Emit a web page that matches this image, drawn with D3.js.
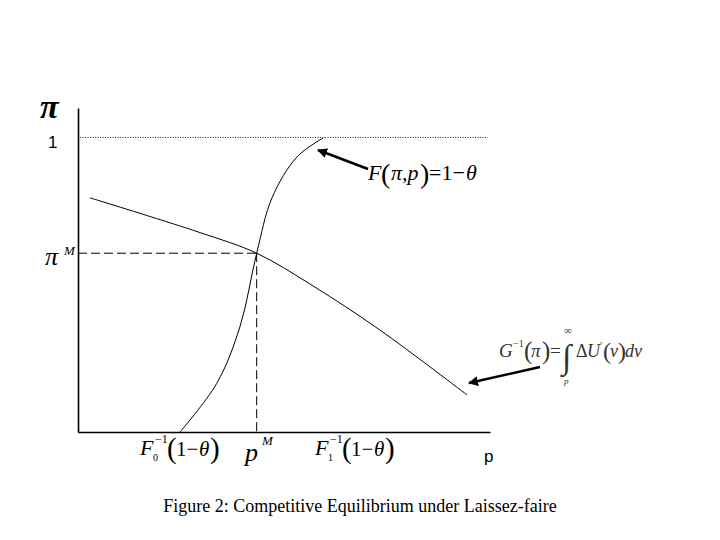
<!DOCTYPE html>
<html>
<head>
<meta charset="utf-8">
<script src="https://cdn.jsdelivr.net/npm/d3@7"></script>
<style>
body{margin:0;background:#fff;}
svg{display:block;}
.serif{font-family:"Liberation Serif","Times New Roman",serif;}
.sans{font-family:"Liberation Sans",Arial,sans-serif;}
</style>
</head>
<body>
<svg id="c" width="720" height="540"></svg>
<script>
// ---- data (p on 0..100, pi on 0..1) ----
const supplyP  = [24.76, 33.67, 39.32, 43.37, 47.09, 53.16, 59.47];
const supplyPi = [0.0, 0.165, 0.358, 0.607, 0.795, 0.934, 0.998];
const demandP  = [2.91, 29.61, 43.37, 57.04, 73.30, 94.42];
const demandPi = [0.795, 0.677, 0.607, 0.496, 0.346, 0.126];
const equilibrium = {p: 43.37, pi: 0.607};
const piMax = 1.0;

const svg = d3.select("#c");
const x = d3.scaleLinear().domain([0, 100]).range([78, 490]);
const y = d3.scaleLinear().domain([0, 1.1]).range([432, 108]);

// axes (plain lines, no ticks)
svg.append("g").attr("transform", `translate(0,${y(0)})`)
  .call(d3.axisBottom(x).ticks(0).tickSizeOuter(0))
  .call(g => g.select(".domain").attr("stroke", "#000").attr("stroke-width", 1.6));
svg.append("g").attr("transform", `translate(${x(0)},0)`)
  .call(d3.axisLeft(y).ticks(0).tickSizeOuter(0))
  .call(g => g.select(".domain").attr("stroke", "#000").attr("stroke-width", 1.6));

// dotted line at pi = 1
svg.append("line")
  .attr("x1", x(0.5)).attr("x2", x(99.5)).attr("y1", y(piMax)).attr("y2", y(piMax))
  .attr("stroke", "#000").attr("stroke-width", 0.9).attr("stroke-dasharray", "1,1.5");

// dashed equilibrium guides
svg.append("line")
  .attr("x1", x(0)).attr("x2", x(equilibrium.p)).attr("y1", y(equilibrium.pi)).attr("y2", y(equilibrium.pi))
  .attr("stroke", "#000").attr("stroke-width", 1).attr("stroke-dasharray", "9,4");
svg.append("line")
  .attr("x1", x(equilibrium.p)).attr("x2", x(equilibrium.p)).attr("y1", y(equilibrium.pi)).attr("y2", y(0))
  .attr("stroke", "#000").attr("stroke-width", 1).attr("stroke-dasharray", "9,4");

const line = d3.line().x(d => x(d[0])).y(d => y(d[1])).curve(d3.curveCatmullRom.alpha(0.5));
svg.append("path").attr("d", line(supplyP.map((p, i) => [p, supplyPi[i]])))
  .attr("fill", "none").attr("stroke", "#000").attr("stroke-width", 1);
svg.append("path").attr("d", line(demandP.map((p, i) => [p, demandPi[i]])))
  .attr("fill", "none").attr("stroke", "#000").attr("stroke-width", 1);

// arrows
const defs = svg.append("defs");
defs.append("marker").attr("id", "ah").attr("viewBox", "0 0 10 10")
  .attr("refX", 9).attr("refY", 5).attr("markerWidth", 4).attr("markerHeight", 4)
  .attr("orient", "auto").attr("markerUnits", "strokeWidth")
  .append("path").attr("d", "M0,0 L10,5 L0,10 z").attr("fill", "#000");
svg.append("line").attr("x1", 368).attr("y1", 169).attr("x2", 318).attr("y2", 150)
  .attr("stroke", "#000").attr("stroke-width", 2.5).attr("marker-end", "url(#ah)");
svg.append("line").attr("x1", 540).attr("y1", 367).attr("x2", 469).attr("y2", 383)
  .attr("stroke", "#000").attr("stroke-width", 2.5).attr("marker-end", "url(#ah)");

// labels
const T = (cls, xx, yy, size, txt, it) => {
  const e = svg.append("text").attr("class", cls).attr("x", xx).attr("y", yy)
    .attr("font-size", size).attr("fill", "#000").text(txt);
  if (it) e.attr("font-style", "italic");
  return e;
};

T("serif", 40, 118, 34, "π", true).attr("font-weight", "bold");
T("sans", 48, 148, 17, "1");
T("sans", 484, 462, 17, "p");

T("serif", 45, 265, 26, "π", true);
T("serif", 64, 255, 13, "M", true);

// x labels
function finv(x0, sub) {
  T("serif", x0, 455, 22, "F", true);
  T("serif", x0 + 15, 443, 12, "−1");
  T("serif", x0 + 13, 461, 10, sub);
  T("serif", x0 + 27, 458, 29, "(");
  T("serif", x0 + 36, 456, 21, "1−");
  T("serif", x0 + 59, 456, 21, "θ", true);
  T("serif", x0 + 70, 458, 29, ")");
}
finv(140, "0");
finv(315, "1");

T("serif", 245, 461, 26, "p", true);
T("serif", 262, 445, 13, "M", true);

// F label
T("serif", 368, 180, 22, "F", true);
T("serif", 381, 183, 28, "(");
T("serif", 391, 180, 22, "π,p", true);
T("serif", 420, 183, 28, ")");
T("serif", 429, 180, 22, "=1−");
T("serif", 466, 180, 22, "θ", true);

// G label
const gc = "#333";
T("serif", 499, 357, 19, "G", true).attr("fill", gc);
T("serif", 513, 347, 10, "−1").attr("fill", gc);
T("serif", 524, 359, 25, "(").attr("fill", gc);
T("serif", 531, 357, 19, "π", true).attr("fill", gc);
T("serif", 542, 359, 25, ")").attr("fill", gc);
T("serif", 550, 357, 19, "=").attr("fill", gc);
T("serif", 562, 368, 34, "∫").attr("fill", gc);
T("serif", 564, 334, 11, "∞").attr("fill", gc);
T("serif", 564, 384, 9, "p", true).attr("fill", gc);
T("serif", 576, 357, 18, "Δ").attr("fill", gc);
T("serif", 587, 357, 18, "U", true).attr("fill", gc);
T("serif", 600, 349, 11, "′").attr("fill", gc);
T("serif", 603, 359, 24, "(").attr("fill", gc);
T("serif", 610, 357, 18, "v", true).attr("fill", gc);
T("serif", 618, 359, 24, ")").attr("fill", gc);
T("serif", 625, 357, 18, "dv", true).attr("fill", gc);

// caption
T("serif", 360, 512, 18, "Figure 2: Competitive Equilibrium under Laissez-faire").attr("text-anchor", "middle");
</script>
</body>
</html>
